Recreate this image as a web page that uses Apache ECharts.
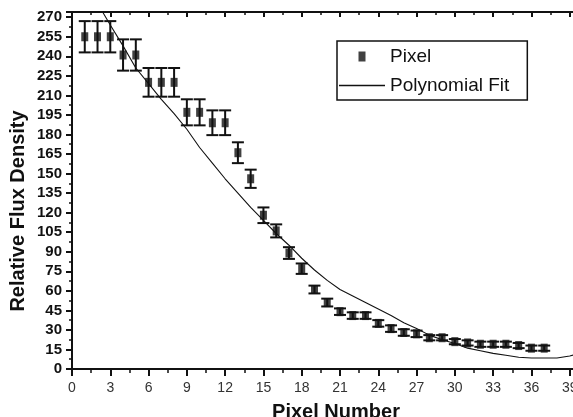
<!DOCTYPE html>
<html>
<head>
<meta charset="utf-8">
<script src="https://cdn.jsdelivr.net/npm/echarts@6/dist/echarts.min.js"></script>
<style>
  html, body { margin: 0; padding: 0; background: #fff; }
  #chart { width: 573px; height: 417px; }
</style>
</head>
<body>
<div id="chart"></div>
<script>
// measured pixel values with error bars
const pixels = [1, 2, 3, 4, 5, 6, 7, 8, 9, 10, 11, 12, 13, 14, 15, 16, 17, 18, 19, 20,
  21, 22, 23, 24, 25, 26, 27, 28, 29, 30, 31, 32, 33, 34, 35, 36, 37];
const flux = [255, 255, 255, 241, 241, 220, 220, 220, 197, 197, 189, 189, 166, 146, 118, 106, 89, 77, 61, 51,
  44, 41, 41, 35, 31, 28, 27, 24, 24, 21, 20, 19, 19, 19, 18, 16, 16];
const fluxErr = [12, 12, 12, 12, 12, 11, 11, 11, 10, 10, 9.5, 9.5, 8, 7, 6, 5, 4.5, 4, 3, 3,
  2.5, 2.5, 2.5, 2.5, 2.5, 2.5, 2.5, 2, 2, 2, 2, 2, 2, 2, 2, 2, 2];

// polynomial fit curve
const fitX = [2.4, 3, 4, 5, 6, 7, 8, 9, 10, 11, 12, 13, 14, 15, 16, 17, 18, 19, 20, 21,
  22, 23, 24, 25, 26, 27, 28, 29, 30, 31, 32, 33, 34, 35, 36, 37, 38, 39, 39.4];
const fitY = [274, 264, 248, 231, 219, 207, 196, 184, 170, 158, 146, 135, 124, 114, 104, 95, 85, 76, 68, 61,
  56, 51, 46, 41, 35.5, 31, 26, 22.5, 19.5, 16, 14, 12, 10.5, 9, 8.4, 8.4, 8.4, 10, 11];

const xTicks = { min: 0, max: 42, interval: 3 };
const yTicks = { min: 0, max: 274, interval: 15 };

const font = "'Liberation Sans', Arial, sans-serif";
const ink = '#111';

const chart = echarts.init(document.getElementById('chart'));

const errData = pixels.map((p, i) => [p, flux[i] - fluxErr[i], flux[i] + fluxErr[i]]);
const ptData = pixels.map((p, i) => [p, flux[i]]);
const fitData = fitX.map((x, i) => [x, fitY[i]]);

const option = {
  animation: false,
  backgroundColor: '#fff',
  grid: { left: 72, top: 12, right: -35, bottom: 48, containLabel: false, outerBoundsMode: 'none' },
  legend: {
    orient: 'vertical',
    left: 337,
    top: 41,
    data: [
      { name: 'Pixel', icon: 'path://M0,0L7,0L7,10L0,10Z' },
      { name: 'Polynomial Fit', icon: 'path://M0,0L46,0L46,1.4L0,1.4Z' }
    ],
    itemWidth: 46,
    itemHeight: 10,
    itemGap: 10,
    padding: [6, 18, 5, 2],
    borderColor: ink,
    borderWidth: 1.5,
    borderRadius: 0,
    textStyle: { fontFamily: font, fontSize: 19, color: ink }
  },
  xAxis: [
    {
      type: 'value',
      min: xTicks.min, max: xTicks.max, interval: xTicks.interval,
      splitLine: { show: false },
      axisLine: { onZero: false, lineStyle: { color: ink, width: 2 } },
      axisTick: { inside: false, length: 7, lineStyle: { color: ink, width: 2 } },
      minorTick: { show: true, splitNumber: 2, length: 4, lineStyle: { color: ink, width: 1.5 } },
      axisLabel: {
        color: '#333', fontFamily: font, fontSize: 14, margin: 12,
        formatter: v => (v === xTicks.max ? '' : String(v))
      }
    },
    {
      type: 'value', position: 'top',
      min: xTicks.min, max: xTicks.max, interval: xTicks.interval,
      splitLine: { show: false },
      axisLine: { onZero: false, lineStyle: { color: ink, width: 2 } },
      axisTick: { inside: true, length: 5, lineStyle: { color: ink, width: 2 } },
      minorTick: { show: true, splitNumber: 2, length: 3, lineStyle: { color: ink, width: 1.5 } },
      axisLabel: { show: false }
    }
  ],
  yAxis: {
    type: 'value',
    min: yTicks.min, max: yTicks.max, interval: yTicks.interval,
    splitLine: { show: false },
    axisLine: { lineStyle: { color: ink, width: 2 } },
    axisTick: { length: 6, lineStyle: { color: ink, width: 2 } },
    minorTick: { show: true, splitNumber: 2, length: 3, lineStyle: { color: ink, width: 1.5 } },
    axisLabel: {
      color: ink, fontFamily: font, fontSize: 15, fontWeight: 'bold', margin: 10,
      formatter: v => (v % 15 === 0 ? String(v) : '')
    }
  },
  graphic: [
    {
      type: 'text', x: 18, y: 211, rotation: Math.PI / 2,
      style: {
        text: 'Relative Flux Density', fontFamily: font, fontSize: 20, fontWeight: 'bold', fill: ink,
        align: 'center', verticalAlign: 'middle'
      }
    },
    {
      type: 'text', x: 336, y: 412,
      style: {
        text: 'Pixel Number', fontFamily: font, fontSize: 20, fontWeight: 'bold', fill: ink,
        align: 'center', verticalAlign: 'middle'
      }
    }
  ],
  series: [
    {
      name: 'Polynomial Fit',
      type: 'line',
      data: fitData,
      symbol: 'none',
      clip: true,
      lineStyle: { color: ink, width: 1.1 },
      itemStyle: { color: ink },
      z: 2
    },
    {
      name: 'errbars',
      type: 'custom',
      data: errData,
      z: 3,
      renderItem: (params, api) => {
        const x = api.value(0);
        const lo = api.coord([x, api.value(1)]);
        const hi = api.coord([x, api.value(2)]);
        const w = 6;
        const st = { stroke: ink, lineWidth: 2 };
        return {
          type: 'group',
          children: [
            { type: 'line', shape: { x1: hi[0], y1: hi[1], x2: lo[0], y2: lo[1] }, style: st },
            { type: 'line', shape: { x1: hi[0] - w, y1: hi[1], x2: hi[0] + w, y2: hi[1] }, style: st },
            { type: 'line', shape: { x1: lo[0] - w, y1: lo[1], x2: lo[0] + w, y2: lo[1] }, style: st }
          ]
        };
      }
    },
    {
      name: 'Pixel',
      type: 'scatter',
      data: ptData,
      symbol: 'rect',
      symbolSize: [7, 9],
      itemStyle: { color: ink },
      z: 4
    }
  ]
};

chart.setOption(option);
</script>
</body>
</html>
